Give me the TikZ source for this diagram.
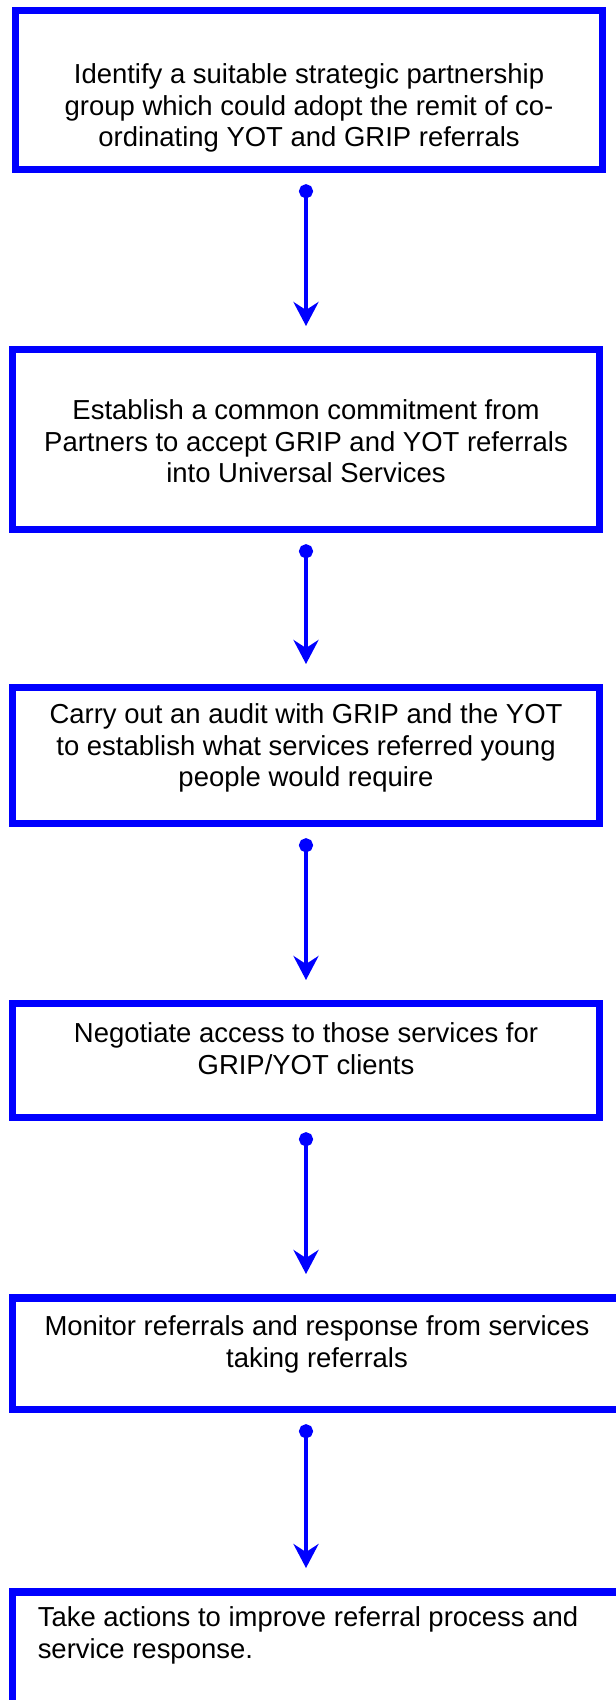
\documentclass[tikz,border=0pt]{standalone}
\usepackage{fontspec}
\setmainfont{Liberation Sans}
\usetikzlibrary{arrows.meta}
\newdimen\pxu \pxu=0.75pt
\begin{document}
\begin{tikzpicture}[x=0.75pt, y=-0.75pt, font=\fontsize{20.6pt}{23.7pt}\selectfont,
    stepbox/.style={draw=blue, line width=5.6pt, inner sep=0pt, outer sep=0pt},
    link/.style={draw=blue, line width=3.5pt, {Circle[length=10.5pt]}-{Stealth[length=18pt, width=18.75pt, inset=6pt]}, shorten <=11.25pt, shorten >=17.8pt}]
  \useasboundingbox (0,0) rectangle (615,1700);
  \coordinate (axis) at (306,0);
  \node[stepbox] (s1) at (309,90) {\parbox[c][158.5\pxu][t]{586.5\pxu}{\centering\vspace*{53\pxu}Identify a suitable strategic partnership\\ group which could adopt the remit of co-\\ ordinating YOT and GRIP referrals}};
  \node[stepbox] (s2) at (306,439.5) {\parbox[c][179.5\pxu][t]{586.5\pxu}{\centering\vspace*{50\pxu}Establish a common commitment from\\ Partners to accept GRIP and YOT referrals\\ into Universal Services}};
  \node[stepbox] (s3) at (306,755.5) {\parbox[c][135.5\pxu][t]{586.5\pxu}{\centering\vspace*{16\pxu}Carry out an audit with GRIP and the YOT\\ to establish what services referred young\\ people would require}};
  \node[stepbox] (s4) at (306,1060.5) {\parbox[c][113.5\pxu][t]{586.5\pxu}{\centering\vspace*{19\pxu}Negotiate access to those services for\\ GRIP/YOT clients}};
  \node[stepbox] (s5) at (317,1353.5) {\parbox[c][111.5\pxu][t]{608.5\pxu}{\centering\vspace*{18\pxu}Monitor referrals and response from services\\ taking referrals}};
  \node[stepbox] (s6) at (317,1655.9) {\parbox[c][128.25\pxu][t]{608.5\pxu}{\raggedright\leftskip=25\pxu\vspace*{15\pxu}Take actions to improve referral process and\\ service response.}};
  % connectors down the middle
  \draw[link] (s1.south -| axis) -- (s2.north -| axis);
  \draw[link] (s2.south -| axis) -- (s3.north -| axis);
  \draw[link] (s3.south -| axis) -- (s4.north -| axis);
  \draw[link] (s4.south -| axis) -- (s5.north -| axis);
  \draw[link] (s5.south -| axis) -- (s6.north -| axis);
\end{tikzpicture}
\end{document}
